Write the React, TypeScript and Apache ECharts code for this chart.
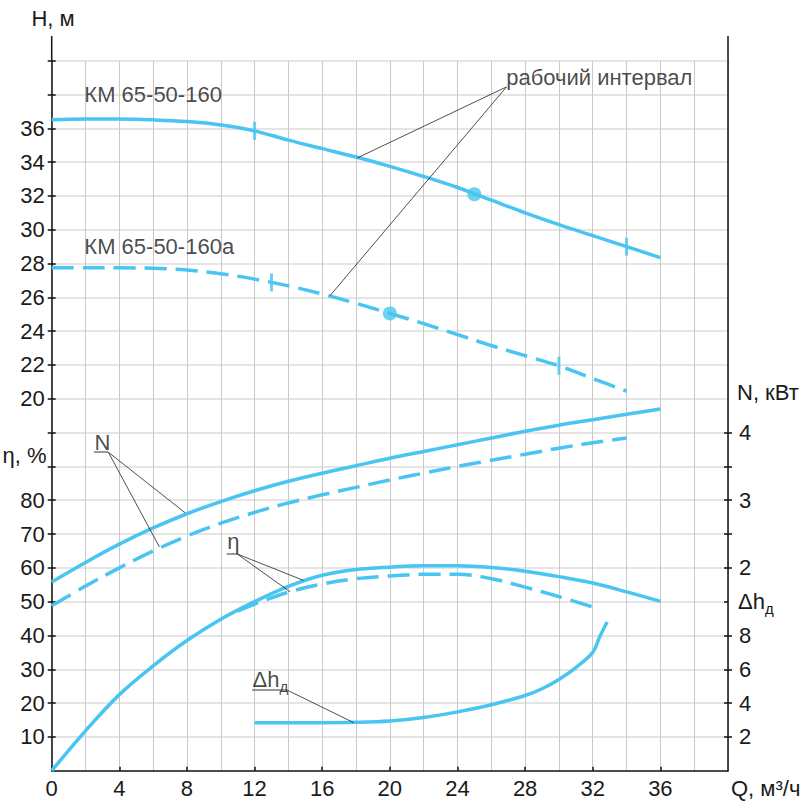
import React, { useEffect, useRef } from "react";
import * as echarts from "echarts";

// ---------- data ----------
// Head curves, H (m) vs Q (m3/h)
const Q_H_MAIN = [0, 2, 4, 6, 8, 10, 12, 14, 16, 18, 20, 22, 24, 26, 28, 30, 32, 34, 36];
const H_MAIN = [36.5, 36.55, 36.55, 36.5, 36.4, 36.2, 35.85, 35.3, 34.8, 34.3, 33.75, 33.15, 32.5, 31.75, 31.0, 30.3, 29.65, 29.0, 28.35];
const Q_H_A = [0, 2, 4, 6, 8, 10, 12, 14, 16, 18, 20, 22, 24, 26, 28, 30, 32, 34];
const H_A = [27.75, 27.75, 27.75, 27.72, 27.62, 27.4, 27.08, 26.68, 26.2, 25.65, 25.05, 24.45, 23.8, 23.15, 22.55, 21.95, 21.2, 20.45];

// Working interval marks and duty points
const WORK_MAIN = [[12, 35.85], [34, 29.0]];
const WORK_A = [[13, 26.88], [30, 21.95]];
const DUTY = [[25, 32.1], [20, 25.05]];

// Power, N (kW)
const Q_N_MAIN = [0, 2, 4, 6, 8, 10, 12, 14, 16, 18, 20, 22, 24, 26, 28, 30, 32, 34, 36];
const N_MAIN = [1.79, 2.08, 2.35, 2.59, 2.8, 2.98, 3.14, 3.28, 3.4, 3.51, 3.62, 3.72, 3.82, 3.92, 4.02, 4.11, 4.19, 4.27, 4.35];
const Q_N_A = [0, 2, 4, 6, 8, 10, 12, 14, 16, 18, 20, 22, 24, 26, 28, 30, 32, 34];
const N_A = [1.44, 1.73, 2.0, 2.25, 2.47, 2.66, 2.82, 2.96, 3.08, 3.19, 3.3, 3.4, 3.5, 3.59, 3.68, 3.77, 3.85, 3.92];

// Efficiency, η (%)
const Q_ETA_MAIN = [0, 2, 4, 6, 8, 10, 12, 14, 16, 18, 20, 22, 24, 26, 28, 30, 32, 34, 36];
const ETA_MAIN = [0, 11.8, 22.5, 31, 38.5, 44.8, 50, 54.5, 57.8, 59.5, 60.2, 60.6, 60.6, 60.1, 59.0, 57.4, 55.5, 52.9, 50.1];
const Q_ETA_A = [11, 12, 14, 16, 18, 20, 22, 24, 26, 28, 30, 32];
const ETA_A = [47.2, 49.3, 52.8, 55.2, 56.8, 57.6, 58.1, 58.1, 56.8, 54.3, 51.5, 48.4];

// NPSH, Δh (m)
const Q_DH = [12, 14, 16, 18, 20, 22, 24, 26, 28, 29, 30, 31, 32, 32.4, 32.85];
const DH = [2.84, 2.84, 2.84, 2.86, 2.94, 3.15, 3.48, 3.9, 4.45, 4.85, 5.4, 6.1, 7.0, 7.9, 8.8];

// Axis ticks / labels
const Q_LABELS = [0, 4, 8, 12, 16, 20, 24, 28, 32, 36];
const Q_TICKS = [4, 8, 12, 16, 20, 24, 28, 32, 36];
const H_LABELS = [20, 22, 24, 26, 28, 30, 32, 34, 36];
const H_TICKS = [16, 18, 20, 22, 24, 26, 28, 30, 32, 34, 36, 38, 40];
const ETA_LABELS = [10, 20, 30, 40, 50, 60, 70, 80];
const N_LABELS = [2, 3, 4];
const N_TICKS = [2, 2.5, 3, 3.5, 4];
const DH_LABELS = [2, 4, 6, 8];
const CELLS_LEFT = [1, 2, 3, 4, 5, 6, 7, 8, 9, 10, 11, 12, 13, 14, 15, 16, 17, 18, 19, 20, 21];
const CELLS_RIGHT = [1, 2, 3, 4, 5, 6, 7, 8, 9, 10];

// Text annotations
const H_NOTES = [
  { value: [1.9, 38], name: "КМ 65-50-160" },
  { value: [1.9, 29], name: "КМ 65-50-160а" },
  { value: [26.85, 39], name: "рабочий интервал" },
];
const H_LEADERS = [
  [[26.9, 38.45], [18.08, 34.25]],
  [[26.9, 38.45], [16.46, 26.1]],
];
const ETA_NOTES = [
  { value: [2.5, 97.0], name: "N" },
  { value: [10.35, 67.8], name: "η" },
  { value: [11.85, 27.0], name: "Δhд" },
];
const ETA_LEADERS = [
  [[3.35, 94.2], [7.89, 76.3]],
  [[3.35, 94.2], [6.37, 66.2]],
  [[10.97, 64.1], [14.89, 56.3]],
  [[10.97, 64.1], [14.1, 52.9]],
  [[13.9, 23.9], [17.85, 14.25]],
];
const ETA_UNDERLINES = [
  [[2.5, 94.2], [3.35, 94.2]],
  [[10.35, 64.1], [10.97, 64.1]],
  [[11.85, 23.9], [13.9, 23.9]],
];

// ---------- styles ----------
const BLUE = "#48c5f0";
const INK = "#1a1a1a";
const FONT = "'Liberation Sans', Arial, sans-serif";
const FS = 22;
const DASH = [22, 9];

const zip = (xs: number[], ys: number[]) => xs.map((x, i) => [x, ys[i]]);

const GRID = { left: 51.7, right: 74, top: 60.7, bottom: 32.3 };
const AX_LINE = { color: "#111", width: 1.5 };

const labelFont = { fontFamily: FONT, fontSize: FS, color: INK };

const curve = (name: string, data: number[][], yAxisIndex: number, dashed: boolean) => ({
  name,
  type: "line",
  xAxisIndex: 0,
  yAxisIndex,
  data,
  smooth: 0.35,
  showSymbol: false,
  symbol: "none",
  silent: true,
  z: 3,
  lineStyle: { color: BLUE, width: 3.5, type: dashed ? DASH : "solid", cap: "butt" },
});

const seg = (pairs: number[][][], color: string, width: number) =>
  pairs.map((p) => [
    { coord: p[0], lineStyle: { color, width, type: "solid" } },
    { coord: p[1] },
  ]);

const subRich = {
  a: { fontFamily: FONT, fontSize: FS, color: INK, lineHeight: 30 },
  s: { fontFamily: FONT, fontSize: 15, color: INK, lineHeight: 17, verticalAlign: "bottom" },
};

const option: any = {
  animation: false,
  backgroundColor: "#ffffff",
  grid: GRID,
  xAxis: [
    {
      type: "value",
      min: 0,
      max: 40,
      interval: 2,
      position: "bottom",
      axisLine: { show: true, onZero: false, lineStyle: AX_LINE },
      axisTick: { show: true, inside: true, length: 4, customValues: Q_TICKS, lineStyle: AX_LINE },
      axisLabel: { show: true, customValues: Q_LABELS, margin: 7, ...labelFont },
      splitLine: { show: false },
    },
    {
      type: "value",
      min: 0,
      max: 40,
      interval: 2,
      position: "bottom",
      axisLine: { show: false, onZero: false },
      axisTick: { show: false },
      axisLabel: { show: false },
      splitLine: { show: true, lineStyle: { color: "#c9c9c9", width: 1 } },
    },
  ],
  yAxis: [
    {
      // left helper in grid cells
      type: "value", min: 0, max: 21, interval: 1, position: "left",
      axisLine: { show: true, onZero: false, lineStyle: AX_LINE },
      axisTick: { show: true, inside: true, length: 4, customValues: CELLS_LEFT, lineStyle: AX_LINE },
      axisLabel: { show: false },
      splitLine: { show: true, lineStyle: { color: "#dcdcdc", width: 1.5 } },
    },
    {
      // H, m
      type: "value", min: -2, max: 40, interval: 2, position: "left",
      axisLine: { show: false, onZero: false },
      axisTick: { show: true, length: 4, customValues: H_TICKS, lineStyle: AX_LINE },
      axisLabel: { show: true, customValues: H_LABELS, margin: 7, ...labelFont },
      splitLine: { show: false },
    },
    {
      // η, %
      type: "value", min: 0, max: 210, interval: 10, position: "left",
      axisLine: { show: false, onZero: false },
      axisTick: { show: true, length: 4, customValues: ETA_LABELS, lineStyle: AX_LINE },
      axisLabel: { show: true, customValues: ETA_LABELS, margin: 7, ...labelFont },
      splitLine: { show: false },
    },
    {
      // right helper in grid cells
      type: "value", min: 0, max: 21, interval: 1, position: "right",
      axisLine: { show: true, onZero: false, lineStyle: AX_LINE },
      axisTick: { show: true, inside: true, length: 4, customValues: CELLS_RIGHT, lineStyle: AX_LINE },
      axisLabel: { show: false },
      splitLine: { show: false },
    },
    {
      // N, kW
      type: "value", min: -1, max: 9.5, interval: 0.5, position: "right",
      axisLine: { show: false, onZero: false },
      axisTick: { show: true, length: 4, customValues: N_TICKS, lineStyle: AX_LINE },
      axisLabel: { show: true, customValues: N_LABELS, margin: 11, ...labelFont },
      splitLine: { show: false },
    },
    {
      // Δh, m
      type: "value", min: 0, max: 42, interval: 2, position: "right",
      axisLine: { show: false, onZero: false },
      axisTick: { show: true, length: 4, customValues: DH_LABELS, lineStyle: AX_LINE },
      axisLabel: { show: true, customValues: DH_LABELS, margin: 11, ...labelFont },
      splitLine: { show: false },
    },
  ],
  series: [
    curve("H", zip(Q_H_MAIN, H_MAIN), 1, false),
    curve("H a", zip(Q_H_A, H_A), 1, true),
    curve("N", zip(Q_N_MAIN, N_MAIN), 4, false),
    curve("N a", zip(Q_N_A, N_A), 4, true),
    curve("eta", zip(Q_ETA_MAIN, ETA_MAIN), 2, false),
    curve("eta a", zip(Q_ETA_A, ETA_A), 2, true),
    curve("dh", zip(Q_DH, DH), 5, false),
    {
      name: "work",
      type: "scatter",
      xAxisIndex: 0,
      yAxisIndex: 1,
      symbol: "rect",
      symbolSize: [3, 18],
      itemStyle: { color: BLUE },
      data: [...WORK_MAIN, ...WORK_A],
      silent: true,
      z: 4,
    },
    {
      name: "duty",
      type: "scatter",
      xAxisIndex: 0,
      yAxisIndex: 1,
      symbol: "circle",
      symbolSize: 14,
      itemStyle: { color: BLUE },
      data: DUTY,
      silent: true,
      z: 4,
    },
    {
      name: "notesH",
      type: "scatter",
      xAxisIndex: 0,
      yAxisIndex: 1,
      symbolSize: 1,
      itemStyle: { color: "rgba(0,0,0,0)" },
      silent: true,
      z: 5,
      label: { show: true, position: "right", distance: 0, formatter: "{b}", ...labelFont },
      data: H_NOTES,
      markLine: {
        silent: true,
        symbol: ["none", "none"],
        label: { show: false },
        lineStyle: { color: "#222", width: 0.8, type: "solid" },
        data: seg(H_LEADERS, "#222", 0.8),
      },
    },
    {
      name: "notesEta",
      type: "scatter",
      xAxisIndex: 0,
      yAxisIndex: 2,
      symbolSize: 1,
      itemStyle: { color: "rgba(0,0,0,0)" },
      silent: true,
      z: 5,
      label: {
        show: true,
        position: "right",
        distance: 0,
        ...labelFont,
        formatter: (p: any) => (p.name === "Δhд" ? "{a|Δh}{s|д}" : "{a|" + p.name + "}"),
        rich: subRich,
      },
      data: ETA_NOTES,
      markLine: {
        silent: true,
        symbol: ["none", "none"],
        label: { show: false },
        lineStyle: { color: "#222", width: 0.8, type: "solid" },
        data: [...seg(ETA_LEADERS, "#222", 0.8), ...seg(ETA_UNDERLINES, "#777", 1.5)],
      },
    },
  ],
  graphic: [
    { type: "line", silent: true, shape: { x1: 51.7, y1: 36, x2: 51.7, y2: 61 }, style: { stroke: "#111", lineWidth: 1.5 } },
    { type: "line", silent: true, shape: { x1: 728, y1: 36, x2: 728, y2: 61 }, style: { stroke: "#111", lineWidth: 1.5 } },
    { type: "text", silent: true, x: 53, y: 18, style: { text: "H, м", fontFamily: FONT, fontSize: FS, fill: INK, align: "center", verticalAlign: "middle" } },
    { type: "text", silent: true, x: 46.5, y: 455, style: { text: "η, %", fontFamily: FONT, fontSize: FS, fill: INK, align: "right", verticalAlign: "middle" } },
    { type: "text", silent: true, x: 737, y: 392, style: { text: "N, кВт", fontFamily: FONT, fontSize: FS, fill: INK, align: "left", verticalAlign: "middle" } },
    {
      type: "text", silent: true, x: 738, y: 601,
      style: { text: "{a|Δh}{s|д}", rich: subRich, fontFamily: FONT, fontSize: FS, fill: INK, align: "left", verticalAlign: "middle" },
    },
    { type: "text", silent: true, x: 731, y: 788, style: { text: "Q, м³/ч", fontFamily: FONT, fontSize: FS, fill: INK, align: "left", verticalAlign: "middle" } },
  ],
};

export default function App() {
  const ref = useRef<HTMLDivElement>(null);
  useEffect(() => {
    if (!ref.current) return;
    const chart = echarts.init(ref.current, null, { renderer: "svg" });
    chart.setOption(option);
    return () => chart.dispose();
  }, []);
  return (
    <div
      ref={ref}
      style={{ position: "fixed", left: 0, top: 0, width: 802, height: 803, background: "#fff" }}
    />
  );
}
